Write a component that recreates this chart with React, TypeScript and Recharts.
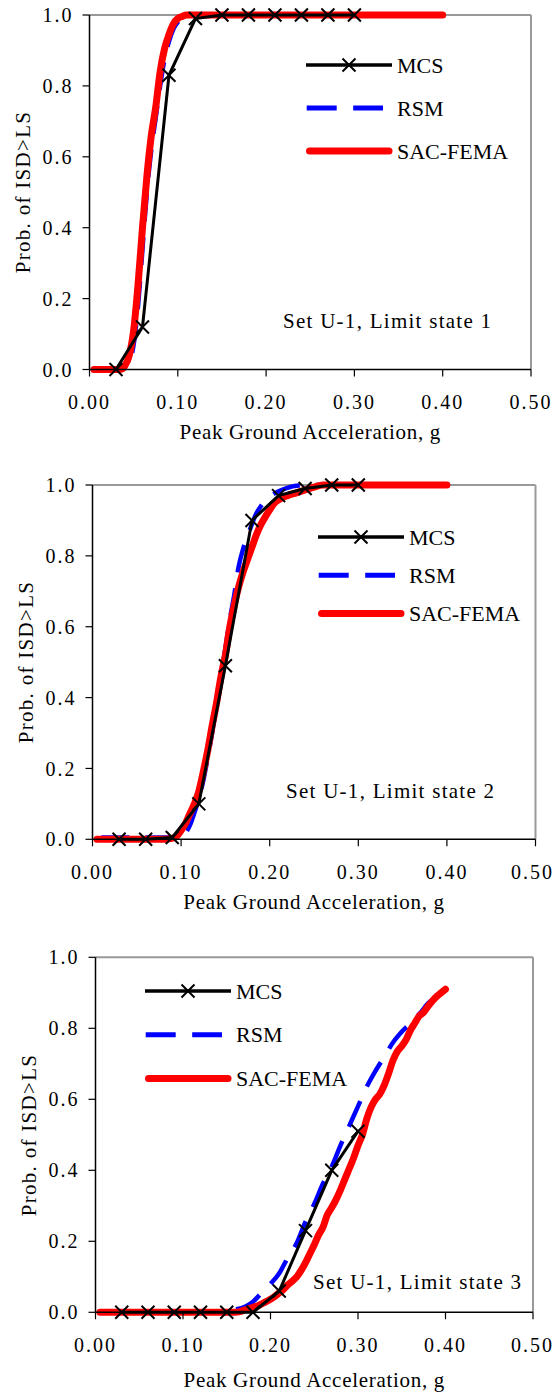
import React from 'react';
import { LineChart, Line, XAxis, YAxis, ReferenceLine, Legend } from 'recharts';

const FONT = "'Liberation Serif', 'Times New Roman', serif";

// axis ticks
const xTicks = [0, 0.1, 0.2, 0.3, 0.4, 0.5];
const yTicks = [0, 0.2, 0.4, 0.6, 0.8, 1.0];
const seriesNames = ['MCS', 'RSM', 'SAC-FEMA'];
const panelNotes = ['Set U-1, Limit state 1', 'Set U-1, Limit state 2', 'Set U-1, Limit state 3'];

// MCS points (same PGA levels in every panel)
const mcsX = [0.03, 0.06, 0.09, 0.12, 0.15, 0.18, 0.21, 0.24, 0.27, 0.3];
const mcsLs1 = [0, 0.12, 0.83, 0.99, 1, 1, 1, 1, 1, 1];
const mcsLs2 = [0, 0, 0.005, 0.1, 0.49, 0.9, 0.97, 0.99, 1, 1];
const mcsLs3 = [0, 0, 0, 0, 0, 0, 0.06, 0.23, 0.4, 0.51];

// RSM
const rsmLs1X = [0.01, 0.02, 0.03, 0.035, 0.04, 0.045, 0.05, 0.055, 0.06, 0.065, 0.07, 0.075, 0.08, 0.085, 0.09, 0.095, 0.1, 0.105, 0.11, 0.12, 0.15, 0.2, 0.25, 0.3, 0.35, 0.4];
const rsmLs1 = [0, 0, 0, 0.001, 0.005, 0.02, 0.07, 0.18, 0.34, 0.5, 0.62, 0.71, 0.8, 0.875, 0.925, 0.96, 0.98, 0.99, 0.996, 1, 1, 1, 1, 1, 1, 1];
const rsmLs2X = [0.01, 0.03, 0.05, 0.07, 0.09, 0.095, 0.1, 0.105, 0.11, 0.115, 0.12, 0.125, 0.13, 0.135, 0.14, 0.145, 0.15, 0.155, 0.16, 0.165, 0.17, 0.175, 0.18, 0.185, 0.19, 0.195, 0.2, 0.21, 0.22, 0.23, 0.25, 0.3, 0.35, 0.4];
const rsmLs2 = [0.005, 0.005, 0.005, 0.005, 0.005, 0.006, 0.009, 0.018, 0.04, 0.075, 0.115, 0.165, 0.23, 0.3, 0.38, 0.46, 0.54, 0.62, 0.69, 0.77, 0.82, 0.855, 0.89, 0.92, 0.94, 0.955, 0.967, 0.982, 0.992, 0.998, 1, 1, 1, 1];
const rsmLs3X = [0.01, 0.05, 0.1, 0.15, 0.16, 0.17, 0.18, 0.19, 0.2, 0.21, 0.22, 0.23, 0.24, 0.25, 0.26, 0.27, 0.28, 0.29, 0.3, 0.31, 0.32, 0.33, 0.34, 0.35, 0.36, 0.37, 0.38, 0.39, 0.4];
const rsmLs3 = [0, 0, 0, 0.003, 0.008, 0.015, 0.03, 0.055, 0.08, 0.11, 0.155, 0.195, 0.255, 0.305, 0.363, 0.41, 0.47, 0.525, 0.58, 0.635, 0.68, 0.72, 0.76, 0.79, 0.815, 0.84, 0.87, 0.89, 0.91];

// SAC-FEMA
const sacLs1X = [0.005, 0.01, 0.02, 0.03, 0.035, 0.04, 0.045, 0.05, 0.055, 0.06, 0.065, 0.07, 0.075, 0.08, 0.085, 0.09, 0.095, 0.1, 0.105, 0.11, 0.12, 0.15, 0.2, 0.25, 0.3, 0.35, 0.4];
const sacLs1 = [0, 0, 0, 0, 0, 0.01, 0.04, 0.11, 0.24, 0.4, 0.545, 0.66, 0.74, 0.84, 0.905, 0.945, 0.975, 0.99, 0.996, 1, 1, 1, 1, 1, 1, 1, 1];
const sacLs2X = [0.005, 0.02, 0.04, 0.06, 0.08, 0.085, 0.09, 0.095, 0.1, 0.105, 0.11, 0.115, 0.12, 0.125, 0.13, 0.135, 0.14, 0.145, 0.15, 0.155, 0.16, 0.165, 0.17, 0.175, 0.18, 0.185, 0.19, 0.195, 0.2, 0.205, 0.21, 0.22, 0.23, 0.24, 0.25, 0.26, 0.28, 0.3, 0.35, 0.4];
const sacLs2 = [0, 0, 0, 0, 0, 0.001, 0.003, 0.009, 0.025, 0.045, 0.073, 0.1, 0.135, 0.19, 0.25, 0.32, 0.385, 0.46, 0.52, 0.6, 0.66, 0.713, 0.755, 0.79, 0.825, 0.86, 0.888, 0.91, 0.93, 0.948, 0.958, 0.97, 0.978, 0.986, 0.994, 1, 1, 1, 1, 1];
const sacLs3X = [0.005, 0.05, 0.1, 0.15, 0.16, 0.165, 0.17, 0.175, 0.18, 0.185, 0.19, 0.195, 0.2, 0.205, 0.21, 0.215, 0.22, 0.225, 0.23, 0.235, 0.24, 0.245, 0.25, 0.255, 0.26, 0.265, 0.27, 0.275, 0.28, 0.285, 0.29, 0.295, 0.3, 0.305, 0.31, 0.315, 0.32, 0.325, 0.33, 0.335, 0.34, 0.345, 0.35, 0.355, 0.36, 0.365, 0.37, 0.375, 0.38, 0.385, 0.39, 0.395, 0.4];
const sacLs3 = [0, 0, 0, 0, 0, 0.002, 0.006, 0.01, 0.014, 0.018, 0.024, 0.03, 0.037, 0.045, 0.055, 0.065, 0.078, 0.088, 0.1, 0.118, 0.14, 0.165, 0.19, 0.218, 0.24, 0.275, 0.295, 0.318, 0.345, 0.375, 0.405, 0.435, 0.47, 0.5, 0.545, 0.578, 0.6, 0.615, 0.64, 0.673, 0.71, 0.735, 0.75, 0.768, 0.795, 0.815, 0.835, 0.845, 0.862, 0.877, 0.89, 0.9, 0.91];

const pts = (xs: number[], ys: number[]) => xs.map((x, i) => ({ x, y: ys[i] }));

// layout of each panel, in page pixels relative to the panel
const panels = [
  { h: 470, left: 89.5, right: 531, top: 15, bottom: 369.5, titleOff: 30.7, legX: 306, legY: 65, legGap: 43, noteX: 283, noteY: 320.7,
    mcs: pts(mcsX, mcsLs1), rsm: pts(rsmLs1X, rsmLs1), sac: pts(sacLs1X, sacLs1), note: panelNotes[0] },
  { h: 470, left: 92.5, right: 535.5, top: 15, bottom: 369.3, titleOff: 30.7, legX: 318, legY: 66.7, legGap: 38.3, noteX: 286, noteY: 320.7,
    mcs: pts(mcsX, mcsLs2), rsm: pts(rsmLs2X, rsmLs2), sac: pts(sacLs2X, sacLs2), note: panelNotes[1] },
  { h: 457, left: 95.5, right: 533, top: 17.3, bottom: 372.3, titleOff: 10.5, legX: 145, legY: 50.7, legGap: 43.8, noteX: 313, noteY: 341.7,
    mcs: pts(mcsX, mcsLs3), rsm: pts(rsmLs3X, rsmLs3), sac: pts(sacLs3X, sacLs3), note: panelNotes[2] },
];

const Cross = (props: any) => {
  const { cx, cy, index } = props;
  if (cx == null || cy == null) return null;
  const s = 6.5;
  return (
    <path key={`x${index}`} d={`M${cx - s},${cy - s}L${cx + s},${cy + s}M${cx - s},${cy + s}L${cx + s},${cy - s}`}
      stroke="#000" strokeWidth={2} fill="none" />
  );
};

const makeLegend = (gap: number) => () => (
  <svg width={240} height={40 + 2 * gap} style={{ display: 'block', overflow: 'visible' }}>
    <line x1={0} x2={86} y1={20} y2={20} stroke="#000" strokeWidth={3.5} />
    <path d="M36.5,13.5L49.5,26.5M36.5,26.5L49.5,13.5" stroke="#000" strokeWidth={2} />
    <line x1={0.7} x2={77} y1={20 + gap} y2={20 + gap} stroke="#0000ff" strokeWidth={5} strokeDasharray="30 16.5" />
    <line x1={3.5} x2={83} y1={20 + 2 * gap} y2={20 + 2 * gap} stroke="#ff0000" strokeWidth={7} strokeLinecap="round" />
    {seriesNames.map((n, i) => (
      <text key={n} x={91} y={20 + i * gap} dominantBaseline="central"
        style={{ fontFamily: FONT, fontSize: 22, fill: '#000' }}>{n}</text>
    ))}
  </svg>
);

const tickStyle = { fill: '#000', fontSize: 20, fontFamily: FONT, letterSpacing: 2 };

function Panel({ p }: { p: (typeof panels)[number] }) {
  return (
    <div style={{ position: 'relative', width: 554, height: p.h }}>
      <LineChart width={554} height={p.h} margin={{ top: p.top, right: 554 - p.right, left: 0, bottom: 0 }}>
        <XAxis type="number" dataKey="x" domain={[0, 0.5]} ticks={xTicks} allowDuplicatedCategory={false}
          tickFormatter={(v: number) => v.toFixed(2)} height={p.h - p.bottom} tickSize={7} tickMargin={18}
          axisLine={{ stroke: '#000', strokeWidth: 1.5 }} tickLine={{ stroke: '#000', strokeWidth: 1.2 }} tick={tickStyle}
          label={{ value: 'Peak Ground Acceleration, g', position: 'insideBottom', offset: p.titleOff,
            style: { fontFamily: FONT, fontSize: 21, letterSpacing: 0.7, fill: '#000' } }} />
        <YAxis type="number" dataKey="y" domain={[0, 1]} ticks={yTicks} width={p.left}
          tickFormatter={(v: number) => v.toFixed(1)} tickSize={7} tickMargin={9}
          axisLine={{ stroke: '#000', strokeWidth: 1.5 }} tickLine={{ stroke: '#000', strokeWidth: 1.2 }} tick={tickStyle} />
        <ReferenceLine y={1} stroke="#999" strokeWidth={2} />
        <ReferenceLine x={0.5} stroke="#999" strokeWidth={2} />
        <Line data={p.rsm} dataKey="y" name="RSM" type="monotone" stroke="#0000ff" strokeWidth={4.5}
          strokeDasharray="28 16" dot={false} isAnimationActive={false} />
        <Line data={p.sac} dataKey="y" name="SAC-FEMA" type="monotone" stroke="#ff0000" strokeWidth={7}
          strokeLinecap="round" strokeLinejoin="round" dot={false} isAnimationActive={false} />
        <Line data={p.mcs} dataKey="y" name="MCS" type="linear" stroke="#000" strokeWidth={3}
          dot={<Cross />} isAnimationActive={false} />
        <Legend layout="vertical" align="center" verticalAlign="middle" content={makeLegend(p.legGap)}
          wrapperStyle={{ left: p.legX, top: p.legY - 20, width: 240 }} />
      </LineChart>
      {/* y axis title */}
      <div style={{ position: 'absolute', left: p.left - 66.5, top: (p.top + p.bottom) / 2,
        transform: 'translate(-50%, -50%) rotate(-90deg)', fontFamily: FONT, fontSize: 21, lineHeight: '22px',
        letterSpacing: 1.3, whiteSpace: 'nowrap', color: '#000' }}>
        Prob. of ISD&gt;LS
      </div>
      <div style={{ position: 'absolute', left: p.noteX, top: p.noteY - 11, fontFamily: FONT, fontSize: 21,
        lineHeight: '22px', letterSpacing: 1.27, whiteSpace: 'nowrap', color: '#000' }}>
        {p.note}
      </div>
    </div>
  );
}

export default function App() {
  return (
    <div style={{ position: 'absolute', left: 0, top: 0, width: 554, height: 1397, background: '#fff' }}>
      {panels.map((p) => <Panel key={p.note} p={p} />)}
    </div>
  );
}
